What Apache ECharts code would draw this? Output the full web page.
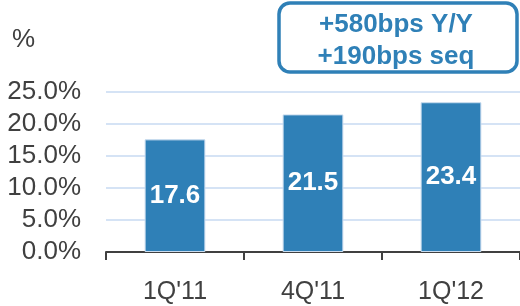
<!DOCTYPE html>
<html>
<head>
<meta charset="utf-8">
<script src="https://cdn.jsdelivr.net/npm/echarts@6/dist/echarts.min.js"></script>
<style>
  html, body { margin: 0; padding: 0; background: #fff; }
  #main { width: 520px; height: 306px; }
</style>
</head>
<body>
<div id="main"></div>
<script>
const categories = ["1Q'11", "4Q'11", "1Q'12"];
const marginValues = [17.6, 21.5, 23.4];
const noteLines = ['+580bps Y/Y', '+190bps seq'];

const FONT = '"Liberation Sans", Arial, sans-serif';
const BLUE = '#2f80b7';

const myChart = echarts.init(document.getElementById('main'));

const option = {
  animation: false,
  grid: { left: 106, right: -3, top: 92, bottom: 54 },
  xAxis: {
    type: 'category',
    data: categories,
    axisLine: { lineStyle: { color: '#404040', width: 2 } },
    axisTick: { show: true, length: 8, lineStyle: { color: '#404040', width: 2 } },
    axisLabel: { color: '#404040', fontSize: 25, fontFamily: FONT, margin: 28 }
  },
  yAxis: {
    type: 'value',
    min: 0,
    max: 25,
    interval: 5,
    axisLine: { show: false },
    axisTick: { show: false },
    splitLine: { lineStyle: { color: '#d5e3f5', width: 2 } },
    axisLabel: {
      color: '#404040', fontSize: 26, fontFamily: FONT, margin: 25,
      formatter: (v) => v.toFixed(1) + '%'
    }
  },
  series: [
    {
      type: 'bar',
      data: marginValues,
      barWidth: '44%',
      itemStyle: { color: BLUE, borderColor: '#c9dcef', borderWidth: 1 },
      label: {
        show: true,
        position: 'inside',
        color: '#fff',
        fontWeight: 'bold',
        fontSize: 26,
        fontFamily: FONT,
        formatter: (p) => p.value.toFixed(1)
      }
    }
  ],
  graphic: [
    {
      type: 'text',
      left: 12,
      top: 27,
      style: { text: '%', fill: '#404040', font: '26px ' + FONT }
    },
    {
      type: 'rect',
      shape: { x: 279, y: 3, width: 238, height: 69, r: 11 },
      style: { fill: '#fff', stroke: BLUE, lineWidth: 3.5 }
    },
    {
      type: 'text',
      x: 396,
      y: 25,
      style: {
        text: noteLines[0], fill: BLUE, font: 'bold 26px ' + FONT,
        align: 'center', verticalAlign: 'middle'
      }
    },
    {
      type: 'text',
      x: 396,
      y: 57,
      style: {
        text: noteLines[1], fill: BLUE, font: 'bold 26px ' + FONT,
        align: 'center', verticalAlign: 'middle'
      }
    }
  ]
};

option && myChart.setOption(option);
</script>
</body>
</html>
